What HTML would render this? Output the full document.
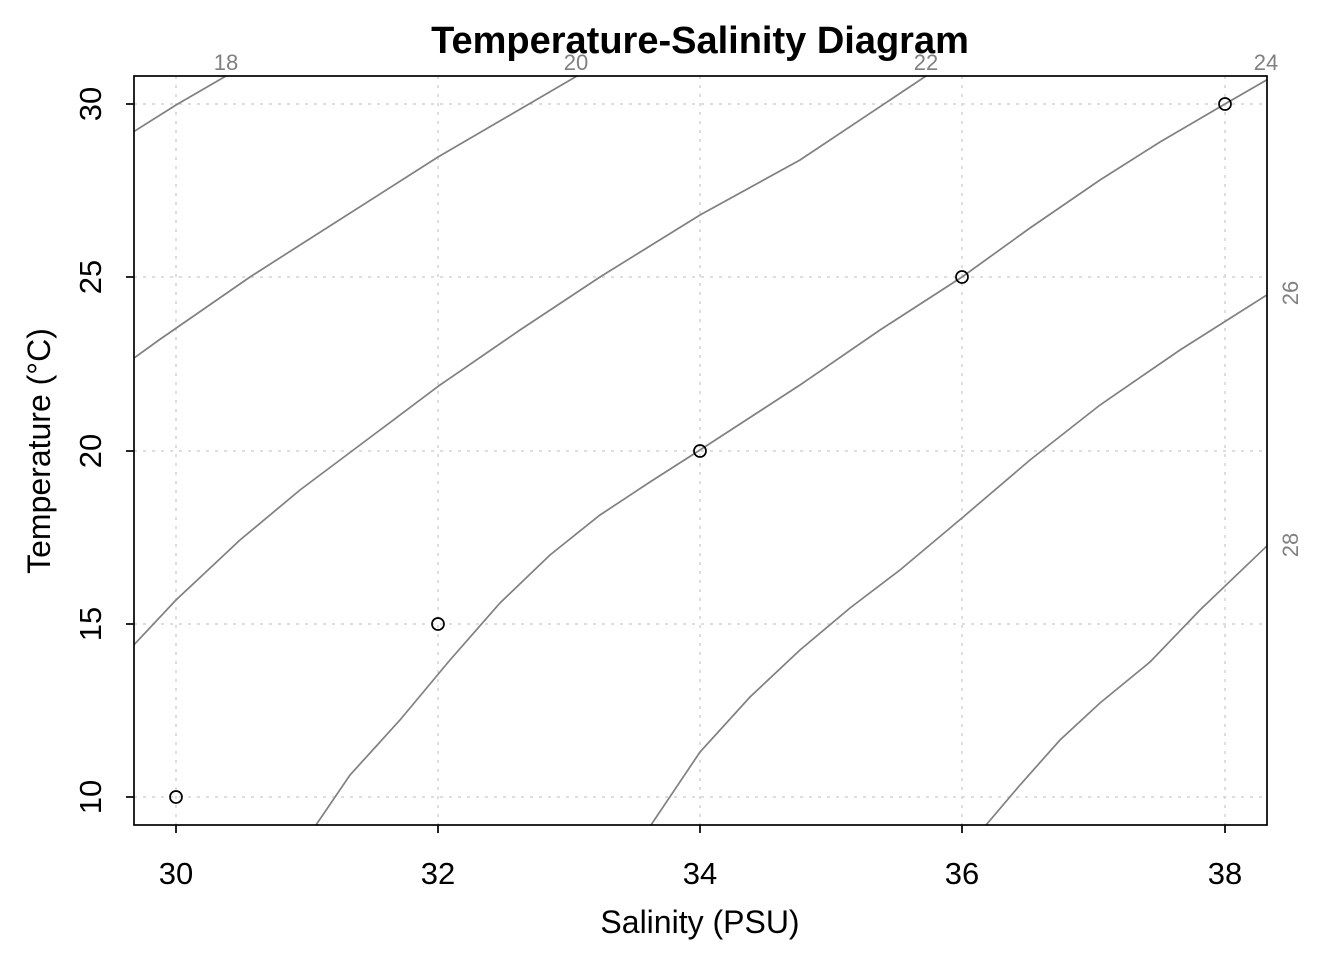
<!DOCTYPE html>
<html><head><meta charset="utf-8"><style>html,body{margin:0;padding:0;background:#fff}svg{display:block}</style></head>
<body>
<svg width="1344" height="960" viewBox="0 0 1344 960" xmlns="http://www.w3.org/2000/svg" font-family="Liberation Sans, Arial, sans-serif">
<defs><clipPath id="c"><rect x="134" y="76" width="1133" height="749"/></clipPath></defs>
<g stroke="#d3d3d3" stroke-width="1.5" stroke-dasharray="3,6">
<line x1="176" y1="76" x2="176" y2="825"/><line x1="438" y1="76" x2="438" y2="825"/><line x1="700" y1="76" x2="700" y2="825"/><line x1="962" y1="76" x2="962" y2="825"/><line x1="1225" y1="76" x2="1225" y2="825"/>
<line x1="134" y1="104" x2="1267" y2="104"/><line x1="134" y1="277" x2="1267" y2="277"/><line x1="134" y1="451" x2="1267" y2="451"/><line x1="134" y1="624" x2="1267" y2="624"/><line x1="134" y1="797" x2="1267" y2="797"/>
</g>
<g clip-path="url(#c)" fill="none" stroke="#808080" stroke-width="1.7">
<polyline points="130,134 176,105 226,76 230,74"/>
<polyline points="130,361 159,340 250,277 300,245 438,157 577,76"/>
<polyline points="130,649 176,600 240,540 300,490 380,430 440,385 520,330 600,277 700,215 800,160 926,76"/>
<polyline points="316,825 350,775 400,720 450,660 500,603 550,555 600,515 650,482 700,450 800,385 880,330 962,277 1030,228 1100,180 1160,142 1225,104 1270,78"/>
<polyline points="651,825 700,752 750,697 800,650 850,608 900,570 962,518 1030,460 1100,405 1180,350 1270,293"/>
<polyline points="986,825 1020,785 1060,740 1100,703 1150,662 1200,610 1270,543"/>
</g>
<rect x="134" y="76" width="1133" height="749" fill="none" stroke="#000" stroke-width="1.7"/>
<g fill="#808080" font-size="22" text-anchor="middle">
<text x="226" y="70">18</text><text x="576" y="70">20</text><text x="926" y="70">22</text><text x="1266" y="70">24</text>
<text transform="translate(1298,293) rotate(-90)">26</text><text transform="translate(1298,545) rotate(-90)">28</text>
</g>
<g stroke="#000" stroke-width="1.7">
<line x1="176" y1="825" x2="176" y2="833"/><line x1="438" y1="825" x2="438" y2="833"/><line x1="700" y1="825" x2="700" y2="833"/><line x1="962" y1="825" x2="962" y2="833"/><line x1="1225" y1="825" x2="1225" y2="833"/>
<line x1="126" y1="104" x2="134" y2="104"/><line x1="126" y1="277" x2="134" y2="277"/><line x1="126" y1="451" x2="134" y2="451"/><line x1="126" y1="624" x2="134" y2="624"/><line x1="126" y1="797" x2="134" y2="797"/>
</g>
<g font-size="31" text-anchor="middle" fill="#000">
<text x="176" y="884">30</text><text x="438" y="884">32</text><text x="700" y="884">34</text><text x="962" y="884">36</text><text x="1225" y="884">38</text>
<text transform="translate(101,104) rotate(-90)">30</text><text transform="translate(101,277) rotate(-90)">25</text><text transform="translate(101,451) rotate(-90)">20</text><text transform="translate(101,624) rotate(-90)">15</text><text transform="translate(101,797) rotate(-90)">10</text>
</g>
<g font-size="32" text-anchor="middle" fill="#000">
<text x="700" y="933">Salinity (PSU)</text>
<text transform="translate(50,451) rotate(-90)">Temperature (°C)</text>
<text x="700" y="53" font-weight="bold" font-size="38">Temperature-Salinity Diagram</text>
</g>
<g fill="none" stroke="#000" stroke-width="1.7">
<circle cx="176" cy="797" r="6"/><circle cx="438" cy="624" r="6"/><circle cx="700" cy="451" r="6"/><circle cx="962" cy="277" r="6"/><circle cx="1225" cy="104" r="6"/>
</g>
</svg>
</body></html>
